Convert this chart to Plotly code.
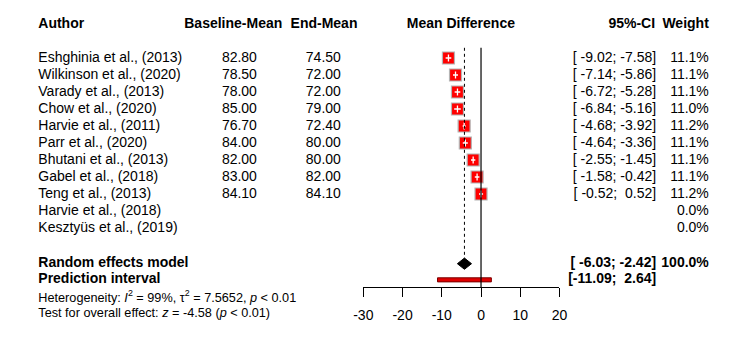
import plotly.graph_objects as go

# ---------------- data ----------------
authors = ["Eshghinia et al., (2013)", "Wilkinson et al., (2020)", "Varady et al., (2013)",
           "Chow et al., (2020)", "Harvie et al., (2011)", "Parr et al., (2020)",
           "Bhutani et al., (2013)", "Gabel et al., (2018)", "Teng et al., (2013)",
           "Harvie et al., (2018)", "Kesztyüs et al., (2019)"]
baseline_mean = ["82.80", "78.50", "78.00", "85.00", "76.70", "84.00", "82.00", "83.00", "84.10", "", ""]
end_mean = ["74.50", "72.00", "72.00", "79.00", "72.40", "80.00", "80.00", "82.00", "84.10", "", ""]
md = [-8.30, -6.50, -6.00, -6.00, -4.30, -4.00, -2.00, -1.00, 0.00]
ci_low = [-9.02, -7.14, -6.72, -6.84, -4.68, -4.64, -2.55, -1.58, -0.52]
ci_high = [-7.58, -5.86, -5.28, -5.16, -3.92, -3.36, -1.45, -0.42, 0.52]
ci_text = ["[ -9.02; -7.58]", "[ -7.14; -5.86]", "[ -6.72; -5.28]", "[ -6.84; -5.16]",
           "[ -4.68; -3.92]", "[ -4.64; -3.36]", "[ -2.55; -1.45]", "[ -1.58; -0.42]",
           "[ -0.52;  0.52]", "", ""]
weights = ["11.1%", "11.1%", "11.1%", "11.0%", "11.2%", "11.1%", "11.1%", "11.1%", "11.2%", "0.0%", "0.0%"]

re_est, re_low, re_high = -4.225, -6.03, -2.42
re_ci_text, re_weight = "[ -6.03; -2.42]", "100.0%"
pi_low, pi_high = -11.09, 2.64
pi_text = "[-11.09;  2.64]"
x_ticks = [-30, -20, -10, 0, 10, 20]

headers = ["Author", "Baseline-Mean", "End-Mean", "Mean Difference", "95%-CI", "Weight"]
het_text = "Heterogeneity: <i>I</i><sup>2</sup> = 99%, τ<sup>2</sup> = 7.5652, <i>p</i> < 0.01"
test_text = "Test for overall effect: <i>z</i> = -4.58 (<i>p</i> < 0.01)"

# ---------------- layout constants ----------------
W, H = 750, 353
FONT = "Liberation Sans, Arial, sans-serif"
FS = 14
row_px0, row_step = 58, 17
y_top = -row_px0 / row_step
y_bot = (H - row_px0) / row_step
RE_ROW, PI_ROW, HET_ROW, TEST_ROW, HEAD_ROW = 12.1, 13.05, 14.15, 15.05, -1.95
axis_px = 287

fig = go.Figure()

n = len(md)
rows = list(range(n))

# vertical reference lines
fig.add_shape(type="line", xref="x", yref="y", x0=0, x1=0, y0=-0.6, y1=(axis_px - row_px0) / row_step,
              line=dict(color="black", width=1.2))
fig.add_shape(type="line", xref="x", yref="y", x0=re_est, x1=re_est, y0=-0.6, y1=RE_ROW - 0.3,
              line=dict(color="black", width=1, dash="dot"))

# squares
fig.add_trace(go.Scatter(x=md, y=rows, mode="markers",
                         marker=dict(symbol="square", size=12, color="#FF0000",
                                     line=dict(color="#B4B4B4", width=1.2)),
                         showlegend=False, hoverinfo="skip"))
# white CI lines inside squares
for i in range(n):
    fig.add_trace(go.Scatter(x=[ci_low[i], ci_high[i]], y=[i, i], mode="lines",
                             line=dict(color="white", width=1.3), showlegend=False, hoverinfo="skip"))
fig.add_trace(go.Scatter(x=md, y=rows, mode="markers",
                         marker=dict(symbol="line-ns", size=5, line=dict(color="white", width=1.3)),
                         showlegend=False, hoverinfo="skip"))

# diamond
h = 0.33
fig.add_trace(go.Scatter(x=[re_low, re_est, re_high, re_est, re_low],
                         y=[RE_ROW, RE_ROW - h, RE_ROW, RE_ROW + h, RE_ROW],
                         mode="lines", fill="toself", fillcolor="black",
                         line=dict(color="black", width=1), showlegend=False, hoverinfo="skip"))

# prediction interval bar
hb = 0.12
fig.add_trace(go.Scatter(x=[pi_low, pi_high, pi_high, pi_low, pi_low],
                         y=[PI_ROW - hb, PI_ROW - hb, PI_ROW + hb, PI_ROW + hb, PI_ROW - hb],
                         mode="lines", fill="toself", fillcolor="#E00000",
                         line=dict(color="#7A0000", width=1), showlegend=False, hoverinfo="skip"))

# ---------------- text (scatter text traces on a pixel-scaled full-width axis) ----------------
def col(x_px, ys, texts, anchor="left", size=FS, bold=False):
    pairs = [(y, t) for y, t in zip(ys, texts) if t]
    if not pairs:
        return
    ys2 = [p[0] for p in pairs]
    ts = [("<b>" + p[1] + "</b>") if bold else p[1] for p in pairs]
    pos = {"left": "middle right", "right": "middle left", "center": "middle center"}[anchor]
    fig.add_trace(go.Scatter(x=[x_px] * len(ys2), y=ys2, text=ts, mode="text",
                             textposition=pos, xaxis="x2", yaxis="y2", cliponaxis=False,
                             textfont=dict(family=FONT, size=size, color="black"),
                             showlegend=False, hoverinfo="skip"))

hdr_pos = [(29, "left"), (279, "right"), (356, "right"), (462, "center"), (661, "right"), (716, "right")]
for (xp, a), s in zip(hdr_pos, headers):
    col(xp, [HEAD_ROW], [s], a, bold=True)

col(29, list(range(len(authors))), authors, "left")
col(253, list(range(len(baseline_mean))), baseline_mean, "right")
col(339, list(range(len(end_mean))), end_mean, "right")
col(662, list(range(len(ci_text))), ci_text, "right")
col(716, list(range(len(weights))), weights, "right")

col(29, [RE_ROW, PI_ROW], ["Random effects model", "Prediction interval"], "left", bold=True)
col(662, [RE_ROW, PI_ROW], [re_ci_text, pi_text], "right", bold=True)
col(716, [RE_ROW], [re_weight], "right", bold=True)
col(29, [HET_ROW, TEST_ROW], [het_text, test_text], "left", size=12.7)

fig.update_layout(
    width=W, height=H, autosize=False,
    margin=dict(l=0, r=0, t=0, b=0),
    paper_bgcolor="white", plot_bgcolor="rgba(0,0,0,0)",
    showlegend=False,
    xaxis=dict(domain=[362 / W, 563 / W], range=[-30, 20], anchor="free", position=1 - axis_px / H,
               showline=True, linecolor="black", linewidth=1, ticks="outside", ticklen=9,
               tickcolor="black", tickwidth=1, tickvals=x_ticks, ticktext=[str(t) for t in x_ticks],
               showgrid=False, zeroline=False, ticklabelstandoff=6,
               tickfont=dict(family=FONT, size=FS, color="black")),
    yaxis=dict(domain=[0, 1], range=[y_bot, y_top], visible=False, showgrid=False, zeroline=False),
    xaxis2=dict(domain=[0, 1], range=[0, W], anchor="y2", visible=False,
                showgrid=False, zeroline=False),
    yaxis2=dict(domain=[0, 1], range=[y_bot, y_top], anchor="x2", visible=False,
                showgrid=False, zeroline=False),
)

fig.write_html("out.html", config={"displayModeBar": False, "staticPlot": True},
               post_script="document.body.style.margin='0px';")
